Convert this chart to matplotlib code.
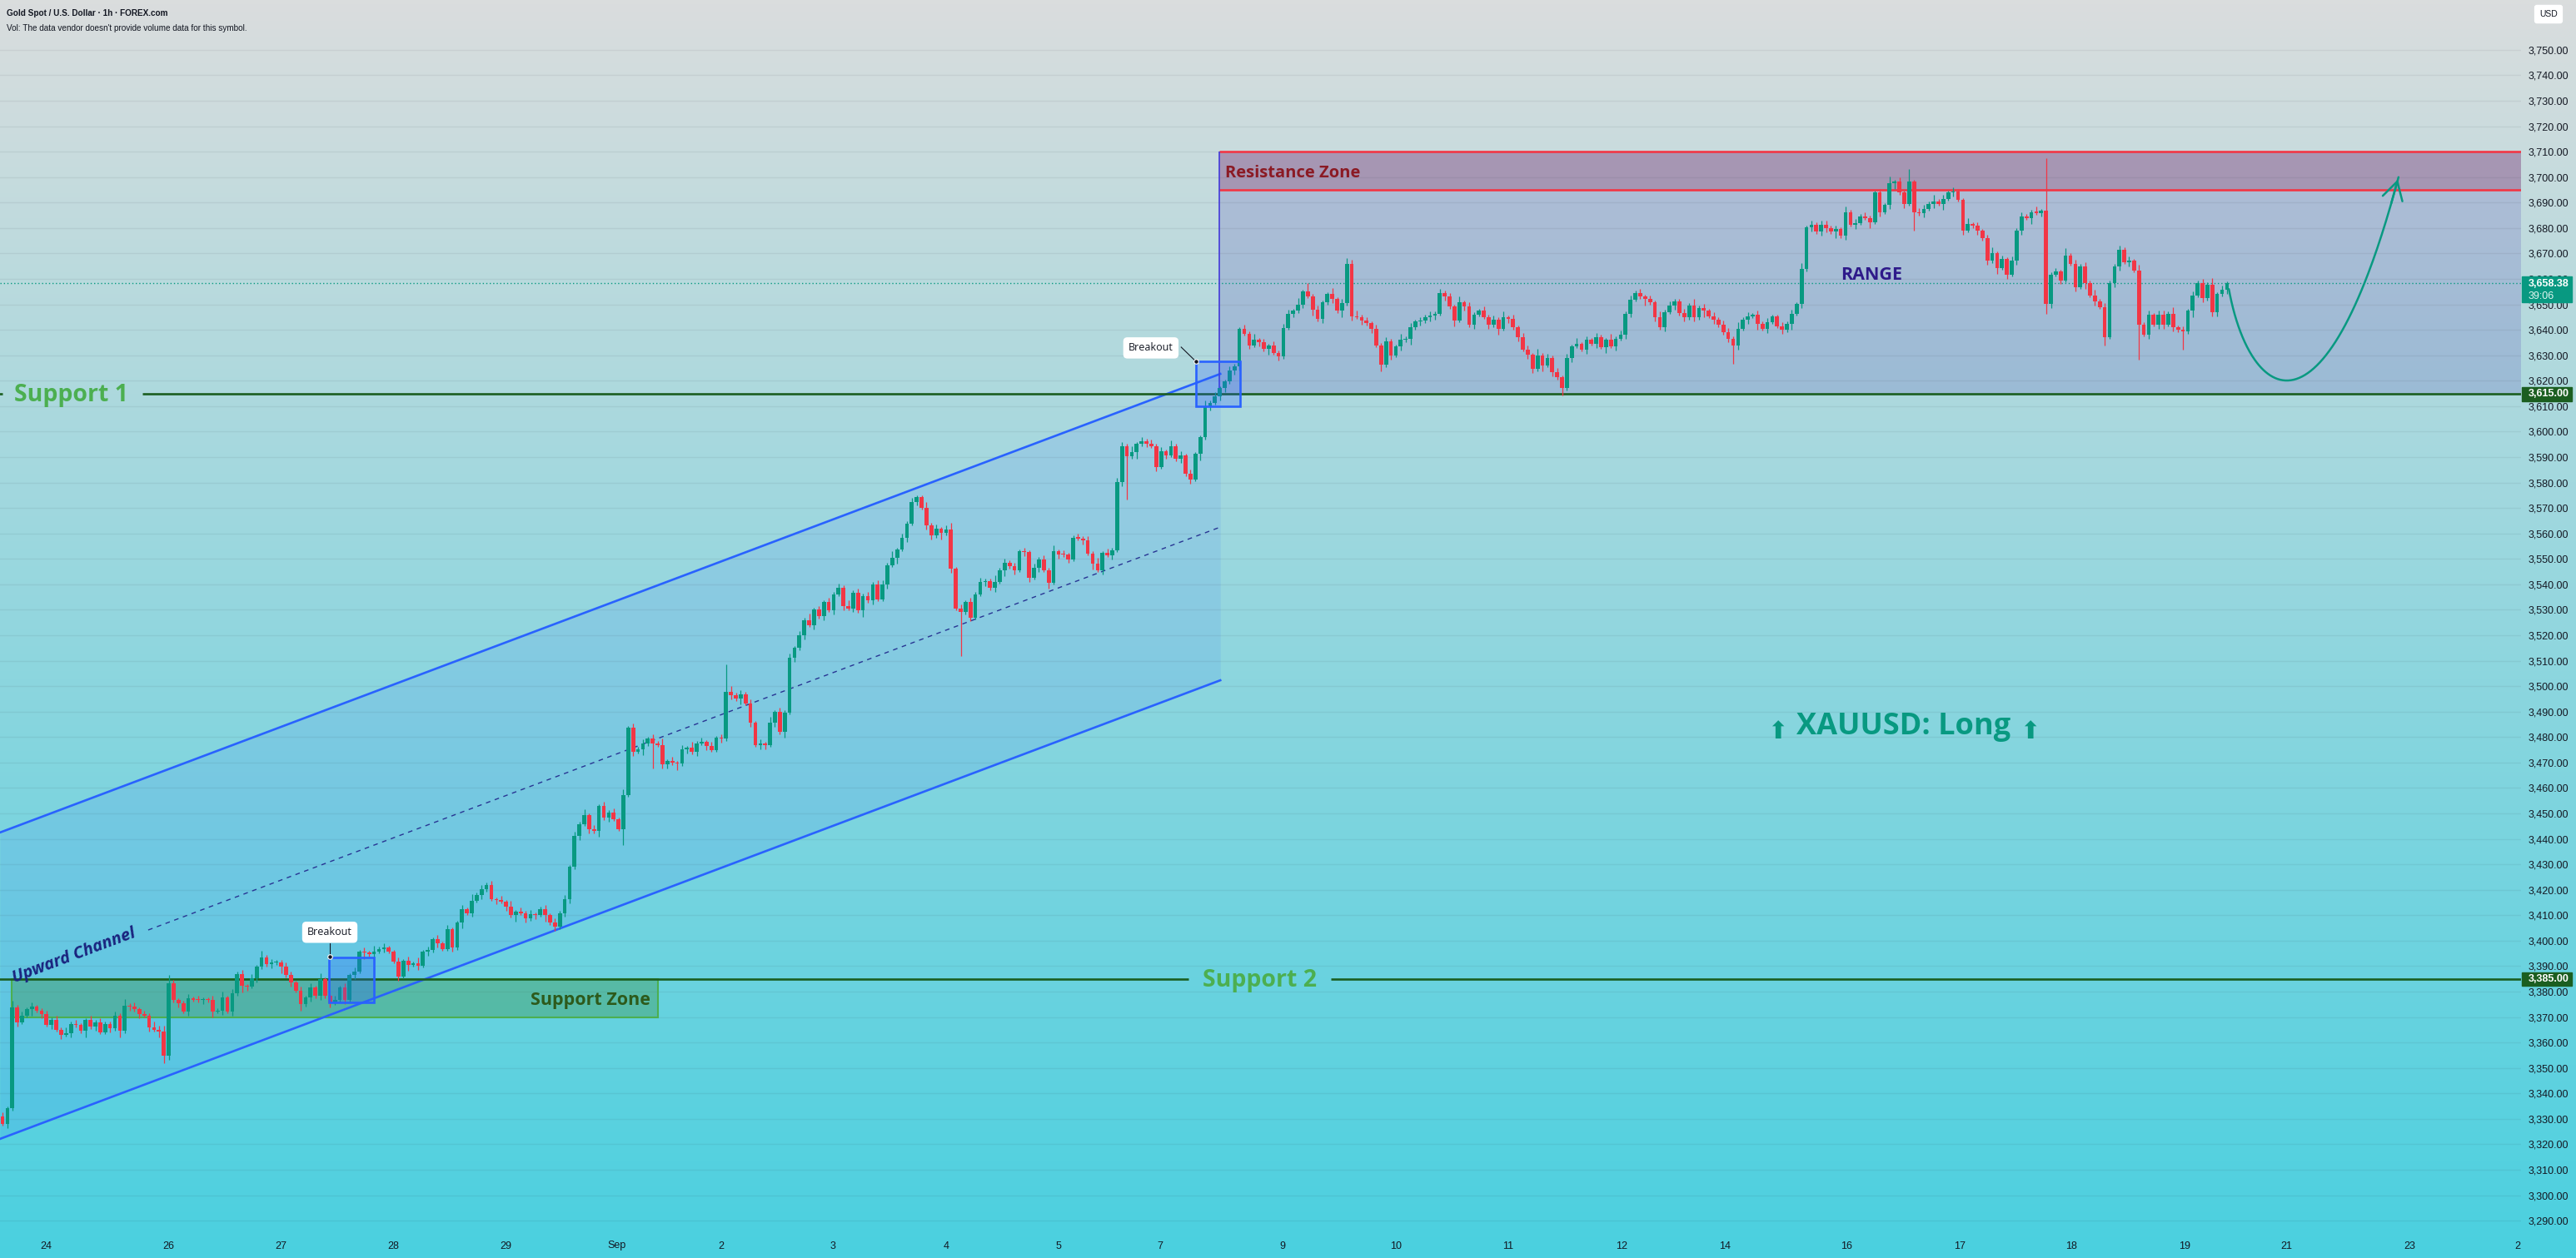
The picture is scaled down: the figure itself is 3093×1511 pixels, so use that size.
import numpy as np
import matplotlib.pyplot as plt
import matplotlib.patches as mpatches

W, H = 3093, 1511

# ---- data (XAUUSD, 1h candles) ----
first_open = 3331.0

# Aug 22 - Aug 29
close_1 = [3328.1, 3334.1, 3373.9, 3368.0, 3370.6, 3373.0, 3374.0, 3372.5, 3371.0, 3367.0,
           3369.0, 3365.0, 3363.0, 3363.5, 3367.3, 3366.8, 3364.5, 3368.8, 3366.2, 3368.0,
           3364.0, 3367.3, 3365.5, 3370.6, 3364.5, 3374.5, 3374.0, 3373.0, 3371.0, 3370.6,
           3365.8, 3365.0, 3364.3, 3354.8, 3383.1, 3376.6, 3375.5, 3372.2, 3377.3, 3376.8,
           3376.6, 3377.0, 3376.6, 3372.2, 3372.5, 3377.7, 3372.2, 3379.3, 3386.9, 3382.2,
           3382.0, 3385.3, 3389.7, 3393.5, 3390.7, 3391.3, 3391.5, 3389.7, 3386.4, 3383.6,
           3380.4, 3375.0, 3377.7, 3381.5, 3378.2, 3384.8, 3378.2, 3375.5, 3376.6, 3381.5,
           3376.6, 3386.4, 3388.0, 3395.7, 3395.2, 3394.6, 3395.7, 3396.8, 3397.3, 3395.7,
           3391.9, 3385.9, 3392.0, 3390.5, 3391.0, 3390.2, 3395.6, 3396.2, 3400.5, 3398.9,
           3396.7, 3404.4, 3397.3, 3407.1, 3412.3, 3410.9, 3415.8, 3418.0, 3420.2, 3422.0,
           3416.3, 3415.9, 3415.3, 3413.3, 3410.0, 3411.4, 3410.9, 3408.7, 3410.3, 3410.2,
           3412.5, 3410.0, 3407.1, 3405.4, 3410.9, 3416.3]

# Aug 29 - Sep 2
close_2 = [3428.9, 3441.2, 3445.8, 3449.3, 3443.8, 3443.1, 3452.9, 3448.2, 3450.4, 3447.7,
           3443.8, 3457.2, 3483.6, 3474.3, 3475.2, 3477.4, 3479.4, 3477.6, 3476.9, 3469.2,
           3470.5, 3469.8, 3469.5, 3475.2, 3475.8, 3474.1, 3477.6, 3478.0, 3476.5, 3475.0,
           3479.6, 3479.4, 3497.8, 3496.5, 3495.1, 3496.8, 3493.2, 3485.6, 3476.9, 3477.4,
           3476.8, 3485.6, 3489.9, 3482.0, 3489.6, 3511.2, 3515.0, 3520.0, 3526.0, 3524.0,
           3530.0, 3527.5, 3533.0, 3529.8]

# Sep 3 - Sep 8
close_3 = [3536.1, 3538.7, 3531.4, 3530.6, 3536.8, 3529.7, 3535.4, 3533.6, 3540.0, 3534.1,
           3540.0, 3547.6, 3550.5, 3553.7, 3558.3, 3563.9, 3572.5, 3574.2, 3570.1, 3563.3,
           3559.2, 3561.8, 3560.1, 3561.6, 3546.1, 3530.6, 3529.1, 3533.0, 3527.0, 3536.1,
           3541.0, 3541.3, 3538.5, 3541.0, 3545.6, 3548.5, 3547.0, 3545.6, 3552.9, 3552.6,
           3542.6, 3546.5, 3549.8, 3545.6, 3540.7, 3552.9, 3551.8, 3551.7, 3549.9, 3558.3,
           3558.1, 3557.4, 3552.2, 3548.1, 3545.6, 3552.4, 3551.5, 3553.5, 3580.1, 3594.3,
           3590.2, 3591.9, 3595.2, 3596.3, 3595.4, 3594.3, 3586.2, 3592.3, 3590.8, 3594.3,
           3589.2, 3590.6, 3583.4, 3581.2, 3591.2, 3597.8, 3609.8, 3611.3, 3613.9, 3617.0,
           3619.7, 3624.1, 3625.7]

# Sep 8 - Sep 19 (range)
close_4 = [3640.4, 3638.5, 3634.0, 3636.0, 3635.0, 3632.5, 3633.8, 3631.0, 3629.5, 3640.8,
           3646.4, 3647.5, 3650.0, 3655.1, 3653.3, 3648.0, 3644.2, 3650.8, 3654.0, 3652.0,
           3647.5, 3650.5, 3666.0, 3645.3, 3645.0, 3643.5, 3642.6, 3640.3, 3634.0, 3626.2,
           3635.5, 3630.0, 3633.5, 3636.0, 3636.5, 3641.0, 3643.2, 3643.5, 3645.0, 3645.7,
           3646.3, 3654.6, 3653.0, 3649.1, 3643.7, 3650.8, 3649.2, 3642.0, 3646.0, 3647.5,
           3645.0, 3642.0, 3644.0, 3640.5, 3644.8, 3644.3, 3641.0, 3637.1, 3632.2, 3630.1,
           3624.6, 3630.0, 3626.0, 3629.0, 3623.5, 3621.3, 3617.0, 3629.0, 3633.5, 3634.4,
           3632.2, 3636.0, 3634.6, 3637.2, 3633.3, 3636.0, 3633.5, 3636.6, 3638.0, 3646.4,
           3651.9, 3654.6, 3653.0, 3652.0, 3650.8, 3645.0, 3641.0, 3647.0, 3649.5, 3651.3,
           3646.5, 3644.8, 3649.7, 3644.8, 3648.6, 3647.5, 3645.3, 3644.0, 3642.0, 3639.0,
           3636.6, 3633.9, 3640.5, 3644.0, 3645.3, 3645.9, 3642.5, 3640.4, 3643.0, 3645.3,
           3641.5, 3639.9, 3642.5, 3646.4, 3650.2, 3663.9, 3680.2, 3681.3, 3678.6, 3681.3,
           3680.0, 3678.6, 3679.5, 3677.0, 3686.2, 3681.3, 3682.0, 3684.6, 3684.0, 3682.4,
           3693.9, 3686.2, 3689.0, 3697.7, 3698.2, 3693.9, 3689.5, 3698.2, 3686.2, 3685.7,
           3687.5, 3689.5, 3690.5, 3689.5, 3691.5, 3693.9, 3694.4, 3691.1, 3679.1, 3681.5,
           3680.8, 3679.0, 3675.9, 3667.1, 3670.0, 3664.4, 3667.7, 3661.7, 3667.1, 3679.1,
           3684.6, 3684.0, 3686.2, 3686.0, 3686.8, 3650.2, 3661.7, 3662.8, 3659.5, 3669.3,
           3666.0, 3656.8, 3665.0, 3658.4, 3653.5, 3651.3, 3649.0, 3637.1, 3658.4, 3665.0,
           3671.5, 3666.6, 3667.1, 3663.3, 3642.1, 3638.2, 3645.9, 3642.1, 3645.9, 3642.1,
           3646.4, 3641.0, 3639.9, 3639.3, 3647.5, 3653.5, 3658.4, 3652.4, 3657.8, 3647.0,
           3654.0, 3655.7, 3658.38]

# wick lengths in dollars, one digit per candle
wick_up_1 = ("2131212112" "1213121121" "2112131212" "1323121121" "2112131212"
             "1213121122" "1212131121" "2121213121" "1212131212" "1211213121"
             "2121312121" "121212")
wick_dn_1 = ("1212113121" "2121211312" "1121312121" "2131212121" "1213121213"
             "2121121312" "1312121211" "2121312121" "1213121212" "1121312121"
             "1212131212" "131212")
wick_up_2 = ("1213121212" "1312121213" "1212131212" "1213121212" "1312121213" "1212")
wick_dn_2 = ("2121213121" "1212131212" "2131212121" "1212131212" "2121312121" "2121")
wick_up_3 = ("1213121212" "2131212113" "1212312121" "2113121212" "1212131211"
             "2121312122" "1312121213" "1212113121" "121")
wick_dn_3 = ("2121213121" "1213121212" "2131212121" "1212131212" "2121312121"
             "1213121212" "2131212121" "1212131212" "212")
wick_up_4 = ("1213121212" "2131212113" "1212312121" "2113121212" "1212131211"
             "2121312122" "1312121213" "1212113121" "2121213121" "1213121212"
             "2131212121" "1212131212" "2121312121" "1213121212" "2131212113"
             "1212312121" "2113121212" "1212131211" "2121312122" "1312121213" "121")
wick_dn_4 = ("2121213121" "1212131212" "1312121213" "1212131212" "2121312121"
             "1213121212" "2131212121" "1212131212" "2113121212" "1212131211"
             "2121213121" "1213121212" "2131212113" "1212312121" "2121312121"
             "1212131212" "2131212121" "1213121212" "2121312122" "1212131212" "212")

# long wicks
spike_hi_bar = [34, 148, 267, 275, 390, 418, 422, 433]
spike_hi_val = [3386.4, 3508.5, 3658.4, 3668.2, 3703.1, 3707.5, 3672.0, 3672.6]
spike_lo_bar = [33, 127, 133, 196, 230, 319, 354, 391, 418, 430, 437, 446]
spike_lo_val = [3352.0, 3437.6, 3467.5, 3511.8, 3573.4, 3614.2, 3626.8, 3679.1,
                3646.4, 3633.9, 3628.4, 3632.3]

date_labels = ['24', '26', '27', '28', '29', 'Sep', '2', '3', '4', '5', '7', '9',
               '10', '11', '12', '14', '16', '17', '18', '19', '21', '23', '2']
date_pos = [8.9, 33.9, 56.9, 79.9, 102.9, 125.7, 147.0, 169.8, 193.0, 216.0, 236.8, 261.8,
            285.0, 308.0, 331.2, 352.3, 377.2, 400.3, 423.2, 446.3, 467.1, 492.3, 514.5]

price_ticks = list(range(3290, 3751, 10))

# drawings
channel_x = [-0.51, 249.1]
channel_top = [3442.5, 3622.7]
channel_bot = [3322.1, 3502.3]
channel_mid = [3382.3, 3562.5]
support_1 = 3615.0
support_2 = 3385.0
support_zone = [3370.0, 3385.0]
resistance_zone = [3695.0, 3710.0]
last_price = 3658.38

UP = '#089981'
DOWN = '#f23645'

plt.rcParams['font.family'] = ['Open Sans', 'DejaVu Sans']

fig = plt.figure(figsize=(W / 100, H / 100), dpi=100)

# background gradient
bg = fig.add_axes([0, 0, 1, 1], zorder=-10)
top = np.array([218, 221, 221]) / 255
bot = np.array([74, 208, 224]) / 255
t = np.linspace(0, 1, 300)[:, None, None]
bg.imshow(top * (1 - t) + bot * t, aspect='auto', extent=[0, 1, 0, 1])
bg.axis('off')

ax = fig.add_axes([0, 33 / H, 3027 / W, 1 - 33 / H])
ax.set_facecolor('none')
for s in ax.spines.values():
    s.set_visible(False)
ax.set_xlim(-0.511, 515.16)
ax.set_ylim(3286.1, 3769.6)

# candles
closes = np.array(close_1 + close_2 + close_3 + close_4)
opens = np.concatenate([[first_open], closes[:-1]])
up_w = np.array([int(c) for c in wick_up_1 + wick_up_2 + wick_up_3 + wick_up_4], float)
dn_w = np.array([int(c) for c in wick_dn_1 + wick_dn_2 + wick_dn_3 + wick_dn_4], float)
highs = np.maximum(opens, closes) + up_w * 0.8
lows = np.minimum(opens, closes) - dn_w * 0.8
for b, v in zip(spike_hi_bar, spike_hi_val):
    highs[b] = max(highs[b], v)
for b, v in zip(spike_lo_bar, spike_lo_val):
    lows[b] = min(lows[b], v)
x = np.arange(len(closes))
cols = np.where(closes >= opens, UP, DOWN)
ax.vlines(x, lows, highs, colors=cols, lw=0.9, zorder=4)
ax.bar(x, np.maximum(np.abs(closes - opens), 0.35), bottom=np.minimum(opens, closes),
       width=0.8, color=cols, lw=0, zorder=5)

# upward channel
ax.fill_between(channel_x, channel_bot, channel_top, color='#2962ff', alpha=0.1, lw=0, zorder=1)
ax.plot(channel_x, channel_top, color='#2962ff', lw=1.9, zorder=3)
ax.plot(channel_x, channel_bot, color='#2962ff', lw=1.9, zorder=3)
k = (channel_mid[1] - channel_mid[0]) / (channel_x[1] - channel_x[0])
ax.plot([29.8, channel_x[1]], [channel_mid[0] + k * (29.8 - channel_x[0]), channel_mid[1]],
        color='#283593', lw=1.0, ls=(0, (4, 4)), zorder=3)
ax.text(14.65, 3394.0, 'Upward Channel', rotation=20.6, rotation_mode='anchor',
        ha='center', va='center', fontsize=14.5, style='italic', weight='bold',
        color='#1a237e', zorder=6)

# support zone
ax.add_patch(mpatches.Rectangle((1.87, support_zone[0]), 132.2, support_zone[1] - support_zone[0],
                                fc=(0.22, 0.56, 0.24, 0.35), ec='#4caf50', lw=1.5, zorder=2))
ax.text(132.5, 3374.9, 'Support Zone', ha='right', va='baseline', fontsize=15.5,
        weight='bold', color='#2d5a1b', zorder=6)

# range and resistance zone
ax.add_patch(mpatches.Rectangle((248.9, support_1), 300, resistance_zone[1] - support_1,
                                fc=(0.36, 0.33, 0.74, 0.22), ec='none', zorder=1))
ax.add_patch(mpatches.Rectangle((248.9, resistance_zone[0]), 300,
                                resistance_zone[1] - resistance_zone[0],
                                fc=(0.56, 0.14, 0.31, 0.25), ec='none', zorder=1))
ax.hlines(resistance_zone, 248.9, 520, color=DOWN, lw=1.9, zorder=3)
ax.vlines(248.9, support_1, resistance_zone[1], color='#4338d9', lw=1.2, zorder=3)
ax.text(250.1, 3699.9, 'Resistance Zone', ha='left', va='baseline', fontsize=14.5,
        weight='bold', color='#8b1a24', zorder=6)
ax.text(382.3, 3659.8, 'RANGE', ha='center', va='baseline', fontsize=15.5,
        weight='bold', color='#2e1a8a', zorder=6)

# supports
ax.hlines([support_1, support_1], [-0.6, 28.6], [0.0, 520], color='#1b5e20', lw=1.9, zorder=3)
ax.text(14.1, 3612.0, 'Support 1', ha='center', va='baseline', fontsize=20.5,
        weight='bold', color='#4caf50', zorder=6)
ax.hlines([support_2, support_2], [-0.6, 271.7], [242.6, 520], color='#1b5e20', lw=1.9, zorder=3)
ax.text(257.1, 3382.0, 'Support 2', ha='center', va='baseline', fontsize=20.5,
        weight='bold', color='#4caf50', zorder=6)

# breakout boxes + labels
for (x0, x1, y0, y1) in [(66.8, 76.0, 3375.8, 3393.4), (244.1, 253.2, 3610.0, 3627.6)]:
    ax.add_patch(mpatches.Rectangle((x0, y0), x1 - x0, y1 - y0, fc=(0.16, 0.38, 1.0, 0.25),
                                    ec='#2962ff', lw=1.9, zorder=6))
ax.plot([66.95, 66.95], [3399.0, 3393.6], color='#131722', lw=0.8, zorder=7)
ax.plot([66.95], [3393.6], 'o', ms=4, color='#131722', mec='white', mew=0.8, zorder=8)
ax.plot([241.1, 244.1], [3633.2, 3627.6], color='#131722', lw=0.8, zorder=7)
ax.plot([244.1], [3627.6], 'o', ms=4, color='#131722', mec='white', mew=0.8, zorder=8)
for (bx, by) in [(66.95, 3403.3), (234.9, 3632.9)]:
    ax.text(bx, by, 'Breakout', ha='center', va='center', fontsize=9, color='#131722',
            zorder=9, bbox=dict(boxstyle='round,pad=0.5,rounding_size=0.4', fc='white', ec='none'))

# projected path
p0, p1, p2, p3 = (455.4, 3656.0), (459.5, 3612.6), (474.8, 3589.7), (490.1, 3700.0)
tt = np.linspace(0, 1, 200)
bx = (1 - tt) ** 3 * p0[0] + 3 * (1 - tt) ** 2 * tt * p1[0] + 3 * (1 - tt) * tt ** 2 * p2[0] + tt ** 3 * p3[0]
by = (1 - tt) ** 3 * p0[1] + 3 * (1 - tt) ** 2 * tt * p1[1] + 3 * (1 - tt) * tt ** 2 * p2[1] + tt ** 3 * p3[1]
ax.plot(bx, by, color=UP, lw=1.8, zorder=6, solid_capstyle='round')
ax.annotate('', xy=(bx[-1], by[-1]), xytext=(bx[-8], by[-8]),
            arrowprops=dict(arrowstyle='->,head_length=0.7,head_width=0.4', color=UP,
                            lw=1.8, mutation_scale=22), zorder=6)

# current price line
ax.axhline(last_price, color=UP, lw=1.0, ls=(0, (1, 2)), zorder=2)

# long call text
ax.text(388.9, 3481.2, 'XAUUSD: Long', ha='center', va='baseline', fontsize=26,
        weight='bold', color=UP, zorder=6)
for ax_x in [363.0, 414.6]:
    ax.text(ax_x, 3479.5, '\u2b06', ha='center', va='baseline', fontsize=21,
            color=UP, family='DejaVu Sans', zorder=6)

# axes ticks
ax.set_yticks(price_ticks)
ax.set_yticklabels([f'{v:,.2f}' for v in price_ticks])
ax.yaxis.tick_right()
ax.tick_params(axis='y', length=0, pad=6.5, labelsize=9, labelcolor='#131722')
ax.set_xticks(date_pos)
ax.set_xticklabels(date_labels)
ax.tick_params(axis='x', length=0, pad=9, labelsize=9, labelcolor='#131722')
for lab in ax.get_yticklabels() + ax.get_xticklabels():
    lab.set_fontfamily('Liberation Sans')
ax.grid(axis='y', color='#2a2e39', alpha=0.07, lw=1)
ax.grid(axis='x', visible=False)


def px(xp, yp):
    return xp / W, 1 - yp / H


def price_box(y0, y1, color):
    fx, fy = px(3028, y1)
    fig.add_artist(mpatches.Rectangle((fx, fy), 60 / W, (y1 - y0) / H, color=color,
                                      transform=fig.transFigure, zorder=20))


price_box(332, 363, UP)
fig.text(*px(3036, 341), f'{last_price:,.2f}', ha='left', va='center', fontsize=9,
         weight='bold', color='white', family='Liberation Sans', zorder=21)
fig.text(*px(3036, 356), '39:06', ha='left', va='center', fontsize=9,
         color='#e0f5f0', family='Liberation Sans', zorder=21)
price_box(465, 482, '#1b5e20')
fig.text(*px(3036, 473.5), f'{support_1:,.2f}', ha='left', va='center', fontsize=9,
         weight='bold', color='white', family='Liberation Sans', zorder=21)
price_box(1168, 1184, '#1b5e20')
fig.text(*px(3036, 1176), f'{support_2:,.2f}', ha='left', va='center', fontsize=9,
         weight='bold', color='white', family='Liberation Sans', zorder=21)

fig.text(*px(3060, 17), 'USD', ha='center', va='center', fontsize=7.5, color='#131722',
         family='Liberation Sans', zorder=21,
         bbox=dict(boxstyle='round,pad=0.6,rounding_size=0.3', fc='white', ec='none'))

# header
fig.text(*px(8, 16), 'Gold Spot / U.S. Dollar \u00b7 1h \u00b7 FOREX.com', ha='left', va='center',
         fontsize=7.2, weight='bold', color='#131722', family='Liberation Sans')
fig.text(*px(8, 34), "Vol: The data vendor doesn't provide volume data for this symbol.",
         ha='left', va='center', fontsize=7.2, color='#131722', family='Liberation Sans')

fig.savefig('out.png', dpi=100)
